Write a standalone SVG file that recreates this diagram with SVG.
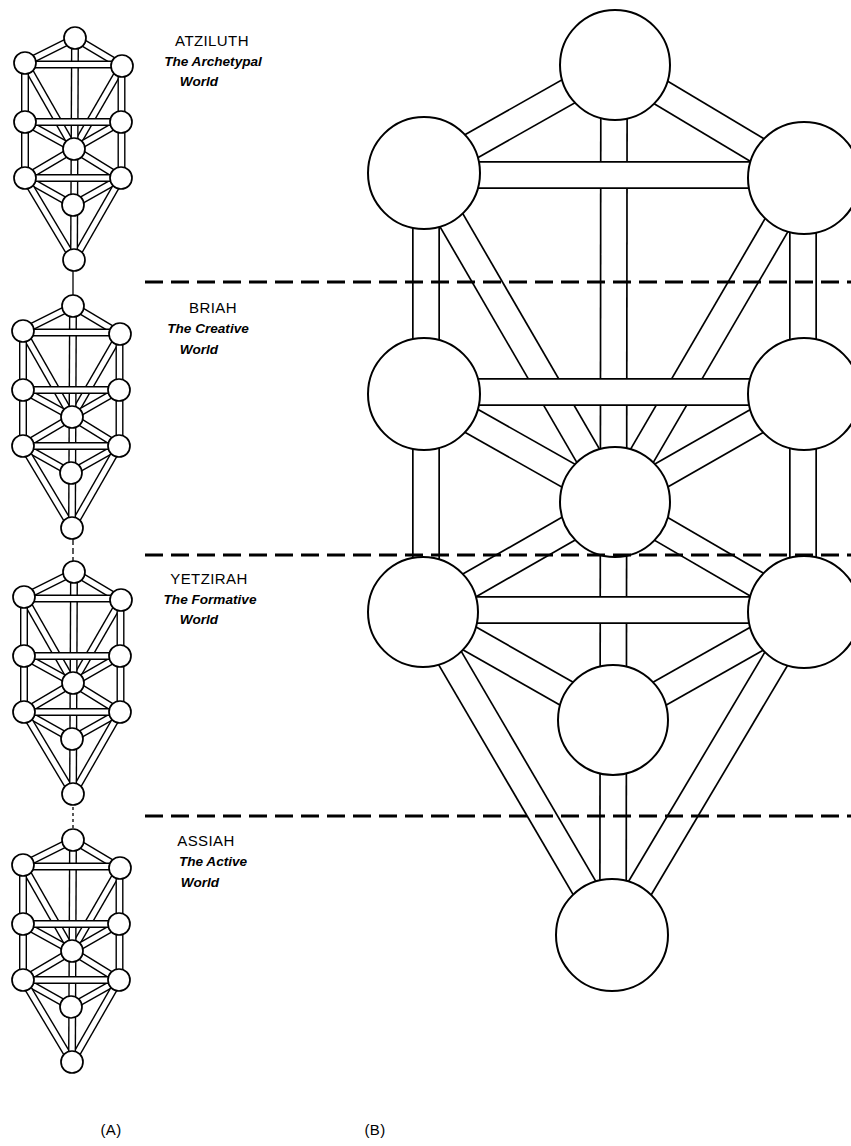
<svg xmlns="http://www.w3.org/2000/svg" xmlns:xlink="http://www.w3.org/1999/xlink" width="851" height="1146" viewBox="0 0 851 1146">
<style>
.bo{stroke:#000;stroke-width:28;fill:none}
.bi{stroke:#fff;stroke-width:24.6;fill:none}
.n{fill:#fff;stroke:#000;stroke-width:2}
.mo{stroke:#000;stroke-width:8}
.mi{stroke:#fff;stroke-width:5.2}
.mn{fill:#fff;stroke:#000;stroke-width:1.7}
.dash{stroke:#000;stroke-width:3;stroke-dasharray:18 8;fill:none}
.link{stroke:#000;stroke-width:1.3}
.t{font-family:"Liberation Sans",Arial,sans-serif;font-size:15px;letter-spacing:0.4px;text-anchor:middle;fill:#000}
.s{font-family:"Liberation Sans",Arial,sans-serif;font-size:13.6px;font-style:italic;font-weight:bold;text-anchor:middle;fill:#000}
</style>
<defs>
<g id="mini">
<g id="mini-paths">
<line class="mo" x1="0" y1="0" x2="-50" y2="25"/><line class="mi" x1="0" y1="0" x2="-50" y2="25"/>
<line class="mo" x1="0" y1="0" x2="47" y2="28"/><line class="mi" x1="0" y1="0" x2="47" y2="28"/>
<line class="mo" x1="-50" y1="25" x2="-1" y2="111"/><line class="mi" x1="-50" y1="25" x2="-1" y2="111"/>
<line class="mo" x1="47" y1="28" x2="-1" y2="111"/><line class="mi" x1="47" y1="28" x2="-1" y2="111"/>
<line class="mo" x1="-50" y1="84" x2="-1" y2="111"/><line class="mi" x1="-50" y1="84" x2="-1" y2="111"/>
<line class="mo" x1="46" y1="84" x2="-1" y2="111"/><line class="mi" x1="46" y1="84" x2="-1" y2="111"/>
<line class="mo" x1="-1" y1="111" x2="-50" y2="140"/><line class="mi" x1="-1" y1="111" x2="-50" y2="140"/>
<line class="mo" x1="-1" y1="111" x2="46" y2="140"/><line class="mi" x1="-1" y1="111" x2="46" y2="140"/>
<line class="mo" x1="-50" y1="140" x2="-2" y2="167"/><line class="mi" x1="-50" y1="140" x2="-2" y2="167"/>
<line class="mo" x1="46" y1="140" x2="-2" y2="167"/><line class="mi" x1="46" y1="140" x2="-2" y2="167"/>
<line class="mo" x1="-50" y1="140" x2="-1" y2="222"/><line class="mi" x1="-50" y1="140" x2="-1" y2="222"/>
<line class="mo" x1="46" y1="140" x2="-1" y2="222"/><line class="mi" x1="46" y1="140" x2="-1" y2="222"/>
<line class="mo" x1="0" y1="0" x2="-1" y2="222"/><line class="mi" x1="0" y1="0" x2="-1" y2="222"/>
<line class="mo" x1="-50" y1="25" x2="-50" y2="140"/><line class="mi" x1="-50" y1="25" x2="-50" y2="140"/>
<line class="mo" x1="46.5" y1="28" x2="46.5" y2="140"/><line class="mi" x1="46.5" y1="28" x2="46.5" y2="140"/>
<line class="mo" x1="-50" y1="26.5" x2="47" y2="26.5"/><line class="mi" x1="-50" y1="26.5" x2="47" y2="26.5"/>
<line class="mo" x1="-50" y1="84" x2="46" y2="84"/><line class="mi" x1="-50" y1="84" x2="46" y2="84"/>
<line class="mo" x1="-50" y1="140" x2="46" y2="140"/><line class="mi" x1="-50" y1="140" x2="46" y2="140"/>
</g>
<circle class="mn" cx="0" cy="0" r="11"/>
<circle class="mn" cx="-50" cy="25" r="11"/>
<circle class="mn" cx="47" cy="28" r="11"/>
<circle class="mn" cx="-50" cy="84" r="11"/>
<circle class="mn" cx="46" cy="84" r="11"/>
<circle class="mn" cx="-1" cy="111" r="11"/>
<circle class="mn" cx="-50" cy="140" r="11"/>
<circle class="mn" cx="46" cy="140" r="11"/>
<circle class="mn" cx="-2" cy="167" r="11"/>
<circle class="mn" cx="-1" cy="222" r="11"/>
</g>
</defs>
<rect width="851" height="1146" fill="#fff"/>

<g id="tree-atziluth"><use xlink:href="#mini" href="#mini" transform="translate(75,38)"/></g>
<g id="tree-briah"><use xlink:href="#mini" href="#mini" transform="translate(73,306)"/></g>
<g id="tree-yetzirah"><use xlink:href="#mini" href="#mini" transform="translate(74,572)"/></g>
<g id="tree-assiah"><use xlink:href="#mini" href="#mini" transform="translate(73,840)"/></g>

<g id="tree-links">
<line class="link" x1="73" y1="271" x2="73" y2="295"/>
<line class="link" x1="73" y1="539" x2="73" y2="561" stroke-dasharray="6 3"/>
<line class="link" x1="73" y1="807" x2="73" y2="829" stroke-dasharray="3 3"/>
</g>

<g id="labels">
<text class="t" x="212" y="46">ATZILUTH</text>
<text class="s" x="213" y="66">The Archetypal</text>
<text class="s" x="199" y="86">World</text>
<text class="t" x="213" y="313">BRIAH</text>
<text class="s" x="208" y="333">The Creative</text>
<text class="s" x="199" y="354">World</text>
<text class="t" x="209" y="584">YETZIRAH</text>
<text class="s" x="210" y="604">The Formative</text>
<text class="s" x="199" y="624">World</text>
<text class="t" x="206" y="846">ASSIAH</text>
<text class="s" x="213" y="866">The Active</text>
<text class="s" x="200" y="887">World</text>
<text class="t" x="111" y="1135">(A)</text>
<text class="t" x="375" y="1135">(B)</text>
</g>

<g id="connectors">
<line class="bo" x1="615" y1="65" x2="424" y2="173"/><line class="bi" x1="615" y1="65" x2="424" y2="173"/>
<line class="bo" x1="615" y1="65" x2="804" y2="178"/><line class="bi" x1="615" y1="65" x2="804" y2="178"/>
<line class="bo" x1="424" y1="173" x2="615" y2="502"/><line class="bi" x1="424" y1="173" x2="615" y2="502"/>
<line class="bo" x1="804" y1="178" x2="615" y2="502"/><line class="bi" x1="804" y1="178" x2="615" y2="502"/>
<line class="bo" x1="424" y1="394" x2="615" y2="502"/><line class="bi" x1="424" y1="394" x2="615" y2="502"/>
<line class="bo" x1="804" y1="394" x2="615" y2="502"/><line class="bi" x1="804" y1="394" x2="615" y2="502"/>
<line class="bo" x1="615" y1="502" x2="423" y2="612"/><line class="bi" x1="615" y1="502" x2="423" y2="612"/>
<line class="bo" x1="615" y1="502" x2="804" y2="612"/><line class="bi" x1="615" y1="502" x2="804" y2="612"/>
<line class="bo" x1="423" y1="612" x2="613" y2="720"/><line class="bi" x1="423" y1="612" x2="613" y2="720"/>
<line class="bo" x1="804" y1="612" x2="613" y2="720"/><line class="bi" x1="804" y1="612" x2="613" y2="720"/>
<line class="bo" x1="423" y1="612" x2="612" y2="935"/><line class="bi" x1="423" y1="612" x2="612" y2="935"/>
<line class="bo" x1="804" y1="612" x2="612" y2="935"/><line class="bi" x1="804" y1="612" x2="612" y2="935"/>
<line class="bo" x1="614" y1="65" x2="613" y2="935"/><line class="bi" x1="614" y1="65" x2="613" y2="935"/>
<line class="bo" x1="426" y1="173" x2="426" y2="612"/><line class="bi" x1="426" y1="173" x2="426" y2="612"/>
<line class="bo" x1="803" y1="178" x2="803" y2="612"/><line class="bi" x1="803" y1="178" x2="803" y2="612"/>
<line class="bo" x1="424" y1="175" x2="804" y2="175"/><line class="bi" x1="424" y1="175" x2="804" y2="175"/>
<line class="bo" x1="424" y1="392" x2="804" y2="392"/><line class="bi" x1="424" y1="392" x2="804" y2="392"/>
<line class="bo" x1="423" y1="610" x2="804" y2="610"/><line class="bi" x1="423" y1="610" x2="804" y2="610"/>
</g>

<g id="kether"><circle class="n" cx="615" cy="65" r="55"/></g>
<g id="binah"><circle class="n" cx="424" cy="173" r="56"/></g>
<g id="chokmah"><circle class="n" cx="804" cy="178" r="56"/></g>
<g id="geburah"><circle class="n" cx="424" cy="394" r="56"/></g>
<g id="chesed"><circle class="n" cx="804" cy="394" r="56"/></g>
<g id="tiphareth"><circle class="n" cx="615" cy="502" r="55"/></g>
<g id="hod"><circle class="n" cx="423" cy="612" r="55"/></g>
<g id="netzach"><circle class="n" cx="804" cy="612" r="56"/></g>
<g id="yesod"><circle class="n" cx="613" cy="720" r="55"/></g>
<g id="malkuth"><circle class="n" cx="612" cy="935" r="56"/></g>

<g id="world-dividers">
<line class="dash" x1="145" y1="282" x2="851" y2="282"/>
<line class="dash" x1="145" y1="555" x2="851" y2="555"/>
<line class="dash" x1="145" y1="816" x2="851" y2="816"/>
</g>
</svg>
